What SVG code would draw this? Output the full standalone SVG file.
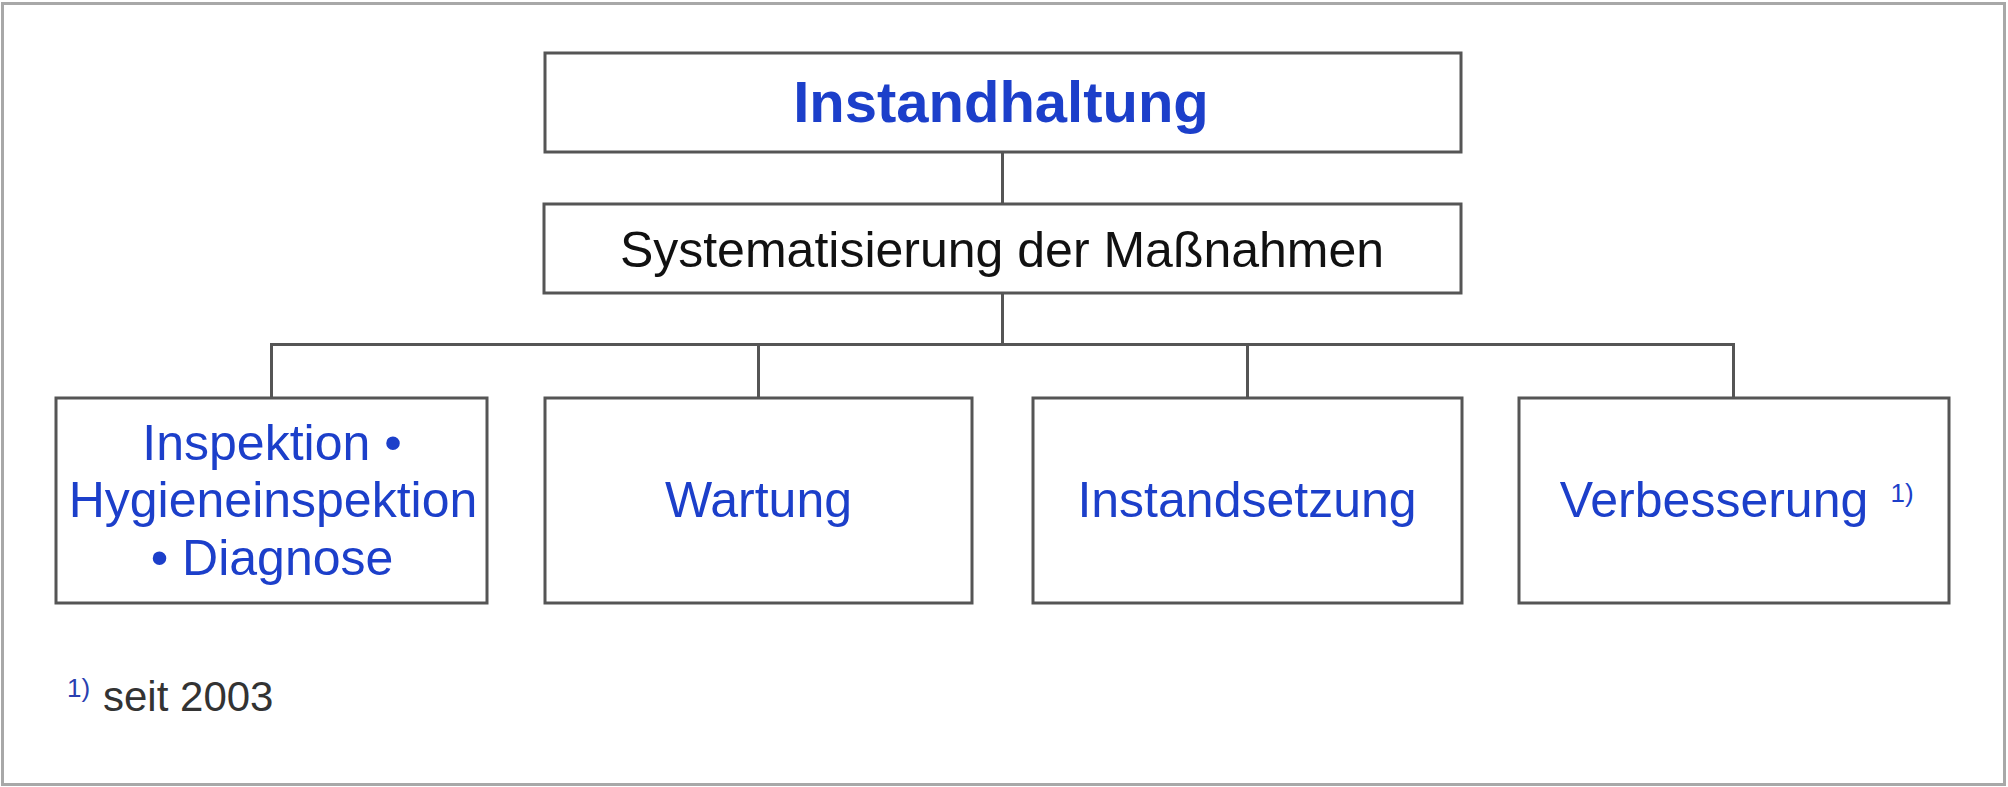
<svg xmlns="http://www.w3.org/2000/svg" width="2008" height="787" viewBox="0 0 2008 787">
<style>
.frame{fill:#ffffff;stroke:#a8a8a8;stroke-width:3}
.box{fill:#ffffff;stroke:#555555;stroke-width:3}
.conn{fill:none;stroke:#555555;stroke-width:3}
.t{font-family:"Liberation Sans",Arial,sans-serif;text-anchor:middle}
.blue{fill:#1c3fca}
.black{fill:#111111}
</style>
<rect class="frame" x="2.5" y="3.5" width="2002" height="781"/>
<g id="connectors">
<line class="conn" x1="1002.5" y1="152" x2="1002.5" y2="204"/>
<line class="conn" x1="1002.5" y1="293" x2="1002.5" y2="344.5"/>
<polyline class="conn" points="271.5,398 271.5,344.5 1733.5,344.5 1733.5,398"/>
<line class="conn" x1="758.5" y1="344.5" x2="758.5" y2="398"/>
<line class="conn" x1="1247.5" y1="344.5" x2="1247.5" y2="398"/>
</g>
<g id="n-instandhaltung">
<rect class="box" x="545" y="53" width="916" height="99"/>
<text class="t blue" x="1001" y="122" font-size="58" font-weight="bold">Instandhaltung</text>
</g>
<g id="n-systematisierung">
<rect class="box" x="544" y="204" width="917" height="89"/>
<text class="t black" x="1002" y="267" font-size="50">Systematisierung der Maßnahmen</text>
</g>
<g id="n-inspektion">
<rect class="box" x="56" y="398" width="431" height="205"/>
<text class="t blue" x="272" y="460" font-size="50">Inspektion •</text>
<text class="t blue" x="273" y="517" font-size="50">Hygieneinspektion</text>
<text class="t blue" x="272" y="575" font-size="50">• Diagnose</text>
</g>
<g id="n-wartung">
<rect class="box" x="545" y="398" width="427" height="205"/>
<text class="t blue" x="758.5" y="517" font-size="50">Wartung</text>
</g>
<g id="n-instandsetzung">
<rect class="box" x="1033" y="398" width="429" height="205"/>
<text class="t blue" x="1247" y="517" font-size="50">Instandsetzung</text>
</g>
<g id="n-verbesserung">
<rect class="box" x="1519" y="398" width="430" height="205"/>
<text class="t blue" x="1714" y="517" font-size="50">Verbesserung</text>
<text class="t blue" x="1902" y="502" font-size="26">1)</text>
</g>
<g id="footnote">
<text x="67" y="697" font-size="26" fill="#2a3fb0" font-family="Liberation Sans,Arial,sans-serif">1)</text>
<text x="103" y="711" font-size="42" fill="#333333" font-family="Liberation Sans,Arial,sans-serif">seit 2003</text>
</g>
</svg>
